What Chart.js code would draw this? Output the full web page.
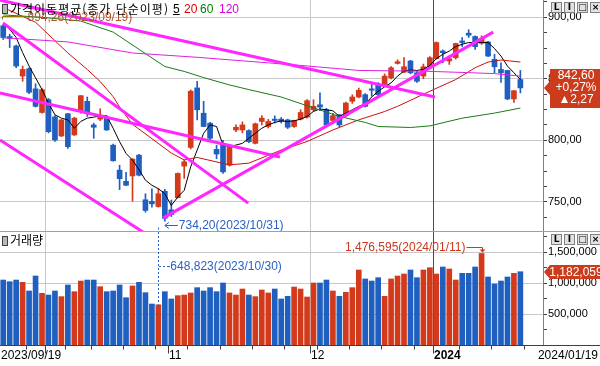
<!DOCTYPE html>
<html lang="ko">
<head>
<meta charset="utf-8">
<title>가격이동평균</title>
<script src="https://cdn.jsdelivr.net/npm/chart.js@4.4.1/dist/chart.umd.min.js"></script>
<style>
  body { margin: 0; background: #fff; }
  #wrap { position: relative; width: 600px; height: 366px; overflow: hidden; background: #fff; }
  canvas { position: absolute; left: 0; }
  .txt { position: absolute; font: 12px 'Noto Sans CJK KR', sans-serif; line-height: 14px; white-space: nowrap; color: #000; }
  .num { font-family: 'Liberation Sans', sans-serif; }
  .icon { position: absolute; left: 2px; width: 4px; height: 8px; background: #b8b8b8; border: 1px solid #404040; }
  .btns { position: absolute; left: 551px; display: flex; gap: 2px; }
  .btns span { width: 9px; height: 9px; border: 1px solid #808080; background: #e2e2e2; font: bold 9px 'DejaVu Sans', sans-serif; line-height: 9px; text-align: center; color: #000; }
  .sep { position: absolute; left: 0; top: 231px; width: 600px; height: 1px; background: #a0a0a0; }
</style>
</head>
<body>
<div id="wrap">
  <canvas id="priceChart" width="600" height="231" style="top:0"></canvas>
  <div class="sep"></div>
  <canvas id="volChart" width="600" height="134" style="top:232px"></canvas>

  <div class="icon" style="top:4px"></div>
  <div class="txt" style="left:10px;top:2px;letter-spacing:1px">가격이동평균(종가 단순이평)</div>
  <div class="txt num" style="left:173px;top:2px;text-decoration:underline">5</div>
  <div class="txt num" style="left:184px;top:2px;color:#e00000">20</div>
  <div class="txt num" style="left:200px;top:2px;color:#008000">60</div>
  <div class="txt num" style="left:219px;top:2px;color:#e000e0">120</div>
  <div class="btns" style="top:2px"><span>L</span><span>I</span><span>□</span><span>×</span></div>

  <div class="icon" style="top:236px"></div>
  <div class="txt" style="left:10px;top:233px">거래량</div>
  <div class="btns" style="top:234px"><span>L</span><span>I</span><span>□</span><span>×</span></div>
</div>
<script>
const dates = ['2023/09/19', '2023/09/20', '2023/09/21', '2023/09/22', '2023/09/25', '2023/09/26', '2023/09/27',
  '2023/10/04', '2023/10/05', '2023/10/06', '2023/10/10', '2023/10/11', '2023/10/12', '2023/10/13', '2023/10/16',
  '2023/10/17', '2023/10/18', '2023/10/19', '2023/10/20', '2023/10/23', '2023/10/24', '2023/10/25', '2023/10/26',
  '2023/10/27', '2023/10/30', '2023/10/31',
  '2023/11/01', '2023/11/02', '2023/11/03', '2023/11/06', '2023/11/07', '2023/11/08', '2023/11/09', '2023/11/10',
  '2023/11/13', '2023/11/14', '2023/11/15', '2023/11/16', '2023/11/17', '2023/11/20', '2023/11/21', '2023/11/22',
  '2023/11/23', '2023/11/24', '2023/11/27', '2023/11/28', '2023/11/29', '2023/11/30',
  '2023/12/01', '2023/12/04', '2023/12/05', '2023/12/06', '2023/12/07', '2023/12/08', '2023/12/11', '2023/12/12',
  '2023/12/13', '2023/12/14', '2023/12/15', '2023/12/18', '2023/12/19', '2023/12/20', '2023/12/21', '2023/12/22',
  '2023/12/26', '2023/12/27', '2023/12/28',
  '2024/01/02', '2024/01/03', '2024/01/04', '2024/01/05', '2024/01/08', '2024/01/09', '2024/01/10', '2024/01/11',
  '2024/01/12', '2024/01/15', '2024/01/16', '2024/01/17', '2024/01/18', '2024/01/19']

const openP = [893.1, 884.4, 876.7, 852.2, 858.2, 841.8, 822.6, 833.0, 819.0, 803.5,
  821.6, 804.3, 823.5, 831.7, 812.5, 817.2, 818.0, 796.0, 775.7, 766.6,
  771.0, 787.9, 751.6, 750.3, 746.1, 758.5, 743.4, 753.3, 779.0, 794.2,
  842.6, 822.0, 813.9, 792.6, 797.5, 779.8, 808.4, 808.4, 807.9, 797.5,
  815.3, 811.2, 817.2, 817.2, 816.6, 811.2, 817.2, 818.8, 824.8, 828.9,
  824.8, 816.1, 820.7, 820.0, 831.7, 835.2, 837.1, 841.8, 845.3, 845.3,
  850.8, 862.5, 855.4, 864.5, 854.9, 852.2, 859.8, 866.4, 872.6, 864.5,
  867.2, 880.8, 887.1, 884.4, 878.9, 880.0, 865.8, 857.6, 856.8, 833.6,
  849.4]
const highP = [894.26, 886.3, 877.5, 860.4, 859.0, 846.0, 842.0, 834.0, 820.0, 817.0,
  822.0, 818.8, 836.3, 835.2, 813.9, 825.7, 820.0, 797.0, 779.7, 774.0,
  785.0, 788.5, 756.5, 760.6, 760.6, 760.0, 751.4, 773.5, 784.0, 841.0,
  848.0, 831.7, 814.5, 796.0, 800.0, 795.0, 812.5, 815.0, 808.5, 814.0,
  820.0, 817.0, 819.9, 818.5, 817.2, 816.5, 824.8, 833.0, 833.0, 838.5,
  826.0, 822.0, 821.0, 831.0, 837.0, 842.5, 838.0, 846.7, 847.0, 854.0,
  860.0, 865.5, 867.2, 865.0, 856.0, 862.0, 868.0, 880.0, 873.5, 868.5,
  879.0, 883.6, 889.9, 885.0, 885.0, 880.5, 870.0, 863.0, 857.0, 840.5,
  856.8]
const lowP = [882.0, 875.4, 859.0, 848.0, 838.0, 827.0, 822.0, 806.0, 799.0, 803.0,
  793.4, 804.0, 822.0, 819.4, 801.6, 816.0, 808.0, 783.0, 759.8, 763.0,
  750.5, 771.0, 741.5, 745.6, 745.6, 734.2, 738.0, 753.0, 769.0, 793.0,
  816.6, 811.0, 800.0, 785.0, 773.0, 779.0, 807.0, 806.0, 798.0, 797.0,
  812.5, 810.0, 814.0, 814.0, 809.5, 810.5, 816.5, 818.0, 823.5, 824.0,
  811.0, 814.0, 811.0, 819.0, 830.0, 834.5, 827.0, 835.8, 836.0, 845.0,
  850.0, 862.0, 855.0, 854.0, 847.0, 850.0, 859.0, 866.0, 863.0, 861.7,
  866.0, 876.2, 883.6, 874.0, 878.0, 868.0, 854.9, 847.0, 833.0, 830.8,
  838.5]
const closeP = [883.6, 882.8, 860.4, 857.6, 839.0, 827.6, 841.2, 807.0, 800.2, 816.6,
  794.8, 818.0, 836.3, 822.0, 810.6, 820.5, 808.4, 783.3, 768.8, 763.4,
  784.7, 771.6, 742.9, 748.3, 756.5, 736.5, 739.6, 773.0, 782.5, 839.9,
  824.8, 811.2, 801.6, 788.8, 774.3, 794.2, 810.6, 812.5, 798.9, 813.4,
  818.0, 815.3, 816.1, 815.3, 810.6, 816.1, 822.6, 832.2, 827.6, 827.0,
  812.5, 820.0, 812.5, 830.3, 835.2, 840.7, 827.6, 840.7, 837.1, 852.2,
  859.0, 863.9, 859.8, 854.9, 848.0, 859.8, 867.2, 879.5, 871.3, 866.4,
  878.7, 879.5, 885.5, 876.2, 882.8, 868.5, 859.8, 854.9, 833.6, 840.33,
  842.6]
const volume = [1048000, 1021000, 1048000, 1011000, 871000, 1113000, 833000, 806000, 871000, 780000,
  968000, 860000, 1032000, 1048000, 1048000, 941000, 860000, 871000, 968000, 763000,
  952000, 1011000, 844000, 661000, 648823, 860000, 742000, 796000, 806000, 839000,
  925000, 871000, 925000, 860000, 1000000, 839000, 806000, 903000, 806000, 780000,
  887000, 839000, 903000, 742000, 785000, 935000, 903000, 774000, 1000000, 1000000,
  1048000, 871000, 785000, 850000, 925000, 1210000, 1065000, 1032000, 1086000, 785000,
  1065000, 1113000, 1145000, 1210000, 1086000, 1210000, 1247000, 1145000, 1258000, 1226000,
  1048000, 1156000, 1156000, 1258000, 1476595, 1097000, 984000, 1032000, 1097000, 1156000,
  1182059]

// moving averages
const ma5 = [895, 890.4, 883.6, 871.3, 860.4, 850.8, 841.2, 830.3, 820.7, 818.0,
  816.6, 809.8, 815.3, 818.0, 818.8, 819.9, 819.9, 809.8, 798.9, 789.3,
  783.8, 776.2, 767.5, 763.4, 760.6, 756.5, 747.0, 753.8, 759.3, 778.4,
  792.0, 805.7, 812.5, 811.2, 796.1, 794.8, 796.1, 797.5, 801.6, 805.7,
  809.8, 812.5, 814.5, 815.8, 815.3, 815.8, 817.2, 819.4, 823.5, 825.4,
  824.8, 824.0, 819.4, 822.1, 824.8, 827.6, 829.5, 835.2, 839.9, 843.4,
  846.7, 852.2, 856.3, 857.1, 856.8, 857.6, 860.9, 866.4, 869.9, 872.6,
  876.2, 878.1, 879.5, 879.5, 879.5, 879.5, 874.6, 868.5, 860.4, 854.9,
  849.4]
const ma20Idx = [0, 5, 10, 13, 15, 17, 18, 20, 26, 28, 30, 35, 38, 43, 47, 51, 55, 59, 61, 66, 70, 73, 75, 77, 80]
const ma20Val = [908, 896, 871, 857.6, 847.8, 835.5, 827, 813, 789.6, 784, 786, 780, 781.4, 792, 799, 808.4, 816.6, 823.4, 827.6, 839.9, 849.4, 859, 863.6, 865.3, 863.6]
const ma60Idx = [0, 6, 12, 17, 21, 25, 28, 31, 35, 38, 43, 47, 52, 56, 58, 63, 66, 71, 76, 80]
const ma60Val = [902, 900, 897, 888, 874, 860, 856, 851, 845, 841.2, 835.2, 828.1, 819.4, 814.5, 811.2, 810.4, 811.7, 818, 822.1, 826.2]
const ma120Idx = [0, 10, 20, 30, 46, 55, 65, 72, 76, 80]
const ma120Val = [883.4, 880, 871, 867.5, 860.9, 856.8, 856.2, 855, 854.2, 852.2]

// drawn trend lines (index, price)
const trendFromX = [-0.5, -0.04, -0.5, -0.5, 24.7]
const trendFromY = [914.0, 895.4, 838.4, 800.2, 736.7]
const trendToX = [66.8, 37.9, 42.8, 22.7, 75.8]
const trendToY = [835.2, 748.9, 786.4, 721.7, 888.0]

const priceTicks = [750, 800, 850, 900]
const volTicks = [500000, 1000000, 1500000]
const gridMonths = ['2023/10', '2023/12']
const yearMark = '2024/01/02'

const RED = '#d33a1c'
const BLUE = '#1f5fbf'
const GRID = '#c8c8c8'
const YEAR_LINE = '#ff0000'
const NOTE_BLUE = '#2a62c4'
const NUM_FONT = "'Liberation Sans', 'DejaVu Sans', sans-serif"

const fmtDec = (v, d) => v.toFixed(d).replace('.', ',')
const fmtInt = v => Math.round(v).toLocaleString('en-US')
const candleColor = i => (closeP[i] >= openP[i] ? RED : BLUE)
const weekNo = d => Math.floor((Date.parse(d.replace(/\//g, '-')) / 86400000 + 3) / 7)
const idxs = dates.map((d, i) => i)

const monthIdx = idxs.filter(i => i > 0 && dates[i].slice(0, 7) !== dates[i - 1].slice(0, 7))
const weekIdx = idxs.filter(i => i > 0 && weekNo(dates[i]) !== weekNo(dates[i - 1])).concat([dates.length])
const gridIdx = gridMonths.map(m => dates.findIndex(d => d.startsWith(m)))
const yearIdx = dates.indexOf(yearMark)

const priceMinor = []
for (let v = 737.5; v < 914; v += 12.5) priceMinor.push(v)
const volMinor = []
for (let v = 250000; v < 1800000; v += 250000) volMinor.push(v)

function vline(ctx, x, y1, y2, color, dash) {
  const px = Math.round(x) + 0.5
  ctx.save()
  ctx.strokeStyle = color
  ctx.lineWidth = 1
  ctx.setLineDash(dash || [])
  ctx.beginPath()
  ctx.moveTo(px, y1)
  ctx.lineTo(px, y2)
  ctx.stroke()
  ctx.restore()
}

function monthLines(chart) {
  const { ctx, chartArea: a, scales: { x } } = chart
  gridIdx.forEach(i => vline(ctx, x.getPixelForValue(i - 0.5), a.top, a.bottom, GRID))
  // year divider, solid red
  ctx.save()
  ctx.fillStyle = YEAR_LINE
  ctx.fillRect(Math.round(x.getPixelForValue(yearIdx - 0.5)), a.top, 1, a.bottom - a.top)
  ctx.restore()
}

const xAxis = () => ({ type: 'linear', display: false, bounds: 'data', offset: false, min: -0.5, max: 83.5 })

const pricePlugin = {
  id: 'priceNotes',
  beforeDatasetsDraw: monthLines,
  afterDraw(chart) {
    const { ctx, chartArea: a, scales: { x, y } } = chart
    ctx.save()
    ctx.font = `12px ${NUM_FONT}`
    ctx.textBaseline = 'middle'
    ctx.lineWidth = 1

    // highest price
    const hi = highP.indexOf(Math.max(...highP))
    const hx = Math.round(x.getPixelForValue(hi)) - 0.5
    const hy = Math.round(y.getPixelForValue(highP[hi]) - 8) + 0.5
    ctx.strokeStyle = '#8a7a00'
    ctx.beginPath()
    ctx.moveTo(hx, hy + 3)
    ctx.lineTo(hx, hy)
    ctx.lineTo(hx + 22, hy)
    ctx.stroke()
    ctx.fillStyle = '#b0502a'
    ctx.fillText(`${fmtDec(highP[hi], 2)}(${dates[hi]})`, hx + 25, hy + 1)

    // lowest price
    const lo = lowP.indexOf(Math.min(...lowP))
    const lx = x.getPixelForValue(lo)
    const ly = Math.round(y.getPixelForValue(lowP[lo]) + 4) + 0.5
    ctx.strokeStyle = NOTE_BLUE
    ctx.fillStyle = NOTE_BLUE
    ctx.beginPath()
    ctx.moveTo(lx + 13, ly)
    ctx.lineTo(lx, ly)
    ctx.moveTo(lx + 4, ly - 3)
    ctx.lineTo(lx, ly)
    ctx.lineTo(lx + 4, ly + 3)
    ctx.stroke()
    ctx.fillText(`${fmtDec(lowP[lo], 2)}(${dates[lo]})`, lx + 14, ly)

    const vlo = volume.indexOf(Math.min(...volume))
    vline(ctx, x.getPixelForValue(vlo), ly + 2, a.bottom, NOTE_BLUE, [2, 2])

    // last price box
    const n = closeP.length - 1
    const diff = closeP[n] - closeP[n - 1]
    const up = diff >= 0
    const ty = Math.round(y.getPixelForValue(closeP[n]))
    const tx = a.right + 1
    const bx = a.right + 7
    ctx.fillStyle = up ? '#cc3c1c' : BLUE
    ctx.beginPath()
    ctx.moveTo(tx, ty)
    ctx.lineTo(bx, ty - 7)
    ctx.lineTo(bx, ty - 19)
    ctx.lineTo(600, ty - 19)
    ctx.lineTo(600, ty + 20)
    ctx.lineTo(bx, ty + 20)
    ctx.lineTo(bx, ty + 7)
    ctx.closePath()
    ctx.fill()
    ctx.fillStyle = '#fff'
    ctx.textAlign = 'center'
    const cx = (bx + 600) / 2 + 1
    ctx.fillText(fmtDec(closeP[n], 2), cx, ty - 12)
    ctx.fillText(`${up ? '+' : '-'}${fmtDec(Math.abs(diff) / closeP[n - 1] * 100, 2)}%`, cx, ty)
    ctx.fillText(`${up ? '▲' : '▼'}${fmtDec(Math.abs(diff), 2)}`, cx, ty + 12)
    ctx.restore()
  }
}

const volPlugin = {
  id: 'volNotes',
  beforeDatasetsDraw: monthLines,
  afterDraw(chart) {
    const { ctx, chartArea: a, scales: { x, y } } = chart
    ctx.save()
    ctx.font = `12px ${NUM_FONT}`
    ctx.textBaseline = 'middle'
    ctx.lineWidth = 1

    // lowest volume
    const vlo = volume.indexOf(Math.min(...volume))
    const vx = x.getPixelForValue(vlo)
    const vTop = y.getPixelForValue(volume[vlo])
    vline(ctx, vx, a.top, vTop, NOTE_BLUE, [2, 2])
    const ny = Math.round(vTop - 39) + 0.5
    ctx.strokeStyle = NOTE_BLUE
    ctx.setLineDash([2, 2])
    ctx.beginPath()
    ctx.moveTo(Math.round(vx) + 1, ny)
    ctx.lineTo(vx + 8, ny)
    ctx.stroke()
    ctx.setLineDash([])
    ctx.fillStyle = NOTE_BLUE
    ctx.fillText(`-${fmtInt(volume[vlo])}(${dates[vlo]})`, vx + 8, ny)

    // highest volume
    const vhi = volume.indexOf(Math.max(...volume))
    const hx = Math.round(x.getPixelForValue(vhi)) + 0.5
    const hTop = y.getPixelForValue(volume[vhi])
    const hy = Math.round(hTop - 6) + 0.5
    ctx.strokeStyle = '#c8391e'
    ctx.fillStyle = '#c8391e'
    ctx.beginPath()
    ctx.moveTo(hx - 16, hy)
    ctx.lineTo(hx, hy)
    ctx.lineTo(hx, hTop - 2)
    ctx.stroke()
    ctx.beginPath()
    ctx.moveTo(hx - 3, hTop - 4)
    ctx.lineTo(hx + 3, hTop - 4)
    ctx.lineTo(hx, hTop - 1)
    ctx.closePath()
    ctx.fill()
    ctx.textAlign = 'right'
    ctx.fillText(`${fmtInt(volume[vhi])}(${dates[vhi]})`, hx - 17, hy)

    // last volume box
    const n = volume.length - 1
    const ty = Math.round(y.getPixelForValue(volume[n]))
    const tx = a.right + 1
    const bx = a.right + 7
    ctx.fillStyle = '#cc3c1c'
    ctx.beginPath()
    ctx.moveTo(tx, ty)
    ctx.lineTo(bx, ty - 7)
    ctx.lineTo(600, ty - 7)
    ctx.lineTo(600, ty + 7)
    ctx.lineTo(bx, ty + 7)
    ctx.closePath()
    ctx.fill()
    ctx.fillStyle = '#fff'
    ctx.textAlign = 'center'
    ctx.fillText(fmtInt(volume[n]), (bx + 600) / 2 + 1, ty + 1)

    // date axis row
    const by = Math.round(a.bottom) + 0.5
    ctx.strokeStyle = '#404040'
    ctx.beginPath()
    ctx.moveTo(0, by)
    ctx.lineTo(600, by)
    weekIdx.forEach(i => {
      const px = Math.round(x.getPixelForValue(i - 0.5)) + 0.5
      ctx.moveTo(px, by)
      ctx.lineTo(px, by + 4)
    })
    monthIdx.forEach(i => {
      const px = Math.round(x.getPixelForValue(i - 0.5)) + 0.5
      ctx.moveTo(px, by)
      ctx.lineTo(px, by + 8)
    })
    ctx.stroke()

    ctx.fillStyle = '#000'
    ctx.textAlign = 'left'
    const ly = by + 10
    monthIdx.forEach(i => {
      const px = Math.round(x.getPixelForValue(i - 0.5))
      if (px < 80) return
      const newYear = dates[i].slice(0, 4) !== dates[i - 1].slice(0, 4)
      ctx.font = `${newYear ? 'bold ' : ''}12px ${NUM_FONT}`
      ctx.fillText(newYear ? dates[i].slice(0, 4) : String(Number(dates[i].slice(5, 7))), px + 1, ly)
    })
    ctx.font = `12px ${NUM_FONT}`
    ctx.fillText(dates[0], 1, ly)
    ctx.textAlign = 'right'
    ctx.fillText(dates[dates.length - 1], 598, ly)
    ctx.restore()
  }
}

const candleColors = idxs.map(candleColor)

const maLine = (idx, vals, color) => ({
  type: 'line',
  data: idx.map((x, k) => ({ x, y: vals[k] })),
  borderColor: color,
  borderWidth: 1,
  pointRadius: 0,
  tension: 0,
  order: 1,
})

const trendSets = trendFromX.map((x0, k) => ({
  type: 'line',
  data: [{ x: x0, y: trendFromY[k] }, { x: trendToX[k], y: trendToY[k] }],
  borderColor: '#ff26ff',
  borderWidth: 3,
  pointRadius: 0,
  order: 0,
}))

new Chart(document.getElementById('priceChart'), {
  type: 'bar',
  data: {
    datasets: [
      ...trendSets,
      maLine(ma120Idx, ma120Val, '#e020e0'),
      maLine(ma60Idx, ma60Val, '#1a7a1a'),
      maLine(ma20Idx, ma20Val, '#cc1010'),
      maLine(idxs, ma5, '#000000'),
      {
        data: idxs.map(i => ({ x: i, y: [lowP[i], highP[i]] })),
        backgroundColor: candleColors,
        barThickness: 1,
        grouped: false,
        order: 3,
      },
      {
        data: idxs.map(i => ({ x: i, y: [openP[i], closeP[i]] })),
        backgroundColor: candleColors,
        barThickness: 5,
        minBarLength: 1,
        grouped: false,
        order: 2,
      },
    ],
  },
  options: {
    responsive: false,
    animation: false,
    devicePixelRatio: 1,
    layout: { padding: 0 },
    plugins: { legend: { display: false }, tooltip: { enabled: false } },
    scales: {
      x: xAxis(),
      y: {
        position: 'right',
        bounds: 'data',
        min: 726.2,
        max: 914.1,
        afterBuildTicks: s => { s.ticks = priceMinor.map(v => ({ value: v })) },
        afterFit: s => { s.width = 57; s.paddingTop = 0; s.paddingBottom = 0 },
        ticks: {
          autoSkip: false,
          padding: 1,
          color: '#000',
          font: { family: NUM_FONT, size: 11 },
          callback: v => (priceTicks.includes(v) ? fmtDec(v, 2) : ''),
        },
        grid: {
          color: c => (c.tick && priceTicks.includes(c.tick.value) ? GRID : 'rgba(0,0,0,0)'),
          tickColor: '#404040',
          tickLength: 4,
        },
        border: { color: '#808080' },
      },
    },
  },
  plugins: [pricePlugin],
})

new Chart(document.getElementById('volChart'), {
  type: 'bar',
  data: {
    datasets: [
      {
        data: idxs.map(i => ({ x: i, y: volume[i] })),
        backgroundColor: candleColors,
        barThickness: 5,
      },
    ],
  },
  options: {
    responsive: false,
    animation: false,
    devicePixelRatio: 1,
    layout: { padding: { top: 0, bottom: 21, left: 0, right: 0 } },
    plugins: { legend: { display: false }, tooltip: { enabled: false } },
    scales: {
      x: xAxis(),
      y: {
        position: 'right',
        bounds: 'data',
        min: 0,
        max: 1822600,
        afterBuildTicks: s => { s.ticks = volMinor.map(v => ({ value: v })) },
        afterFit: s => { s.width = 57; s.paddingTop = 0; s.paddingBottom = 0 },
        ticks: {
          autoSkip: false,
          padding: 1,
          color: '#000',
          font: { family: NUM_FONT, size: 11 },
          callback: v => (volTicks.includes(v) ? fmtInt(v) : ''),
        },
        grid: {
          color: c => (c.tick && volTicks.includes(c.tick.value) ? GRID : 'rgba(0,0,0,0)'),
          tickColor: '#404040',
          tickLength: 4,
        },
        border: { color: '#808080' },
      },
    },
  },
  plugins: [volPlugin],
})
</script>
</body>
</html>
